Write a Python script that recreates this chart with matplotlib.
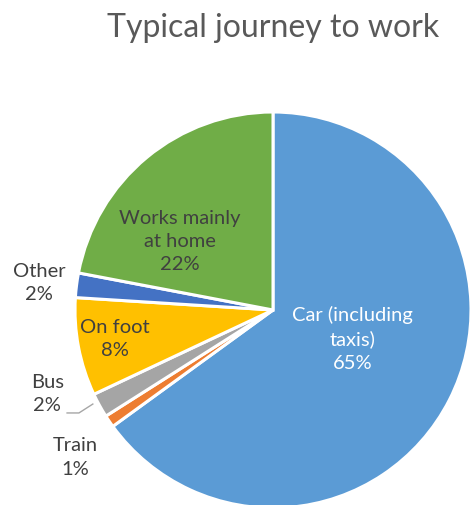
import matplotlib.pyplot as plt

labels = ["Car (including\ntaxis)", "Train", "Bus", "On foot", "Other", "Works mainly\nat home"]
shares = [65, 1, 2, 8, 2, 22]
colors = ["#5B9BD5", "#ED7D31", "#A5A5A5", "#FFC000", "#4472C4", "#70AD47"]

# label anchors (data units, pie radius = 1) and text colours
label_pos = [(0.40, -0.14), (-1.00, -0.74), (-1.14, -0.42), (-0.80, -0.14), (-1.18, 0.14), (-0.47, 0.35)]
label_col = ["white", "#404040", "#404040", "#404040", "#404040", "#404040"]

plt.rcParams['font.family'] = ['Lato', 'DejaVu Sans']

fig = plt.figure(figsize=(4.72, 5.06), dpi=100)
ax = fig.add_axes([0, 0, 1, 1])
ax.pie(shares, colors=colors, startangle=90, counterclock=False,
       wedgeprops=dict(edgecolor='white', linewidth=2.2))
r = 198.0
ax.set_xlim(-273 / r, (472 - 273) / r)
ax.set_ylim(-(506 - 311) / r, 311 / r)
ax.set_aspect('auto')
ax.axis('off')

for lab, val, (x, y), c in zip(labels, shares, label_pos, label_col):
    ax.text(x, y, f"{lab}\n{val}%", ha='center', va='center', color=c,
            fontsize=14.5, linespacing=1.45)

# leader line for the bus slice
ax.plot([-1.04, -0.98, -0.91], [-0.52, -0.52, -0.475], color='#A6A6A6', lw=1)

fig.text(273 / 472, 1 - 28 / 506, "Typical journey to work", ha='center', va='center',
         fontsize=23, color='#595959')

fig.savefig('out.png', dpi=100)
